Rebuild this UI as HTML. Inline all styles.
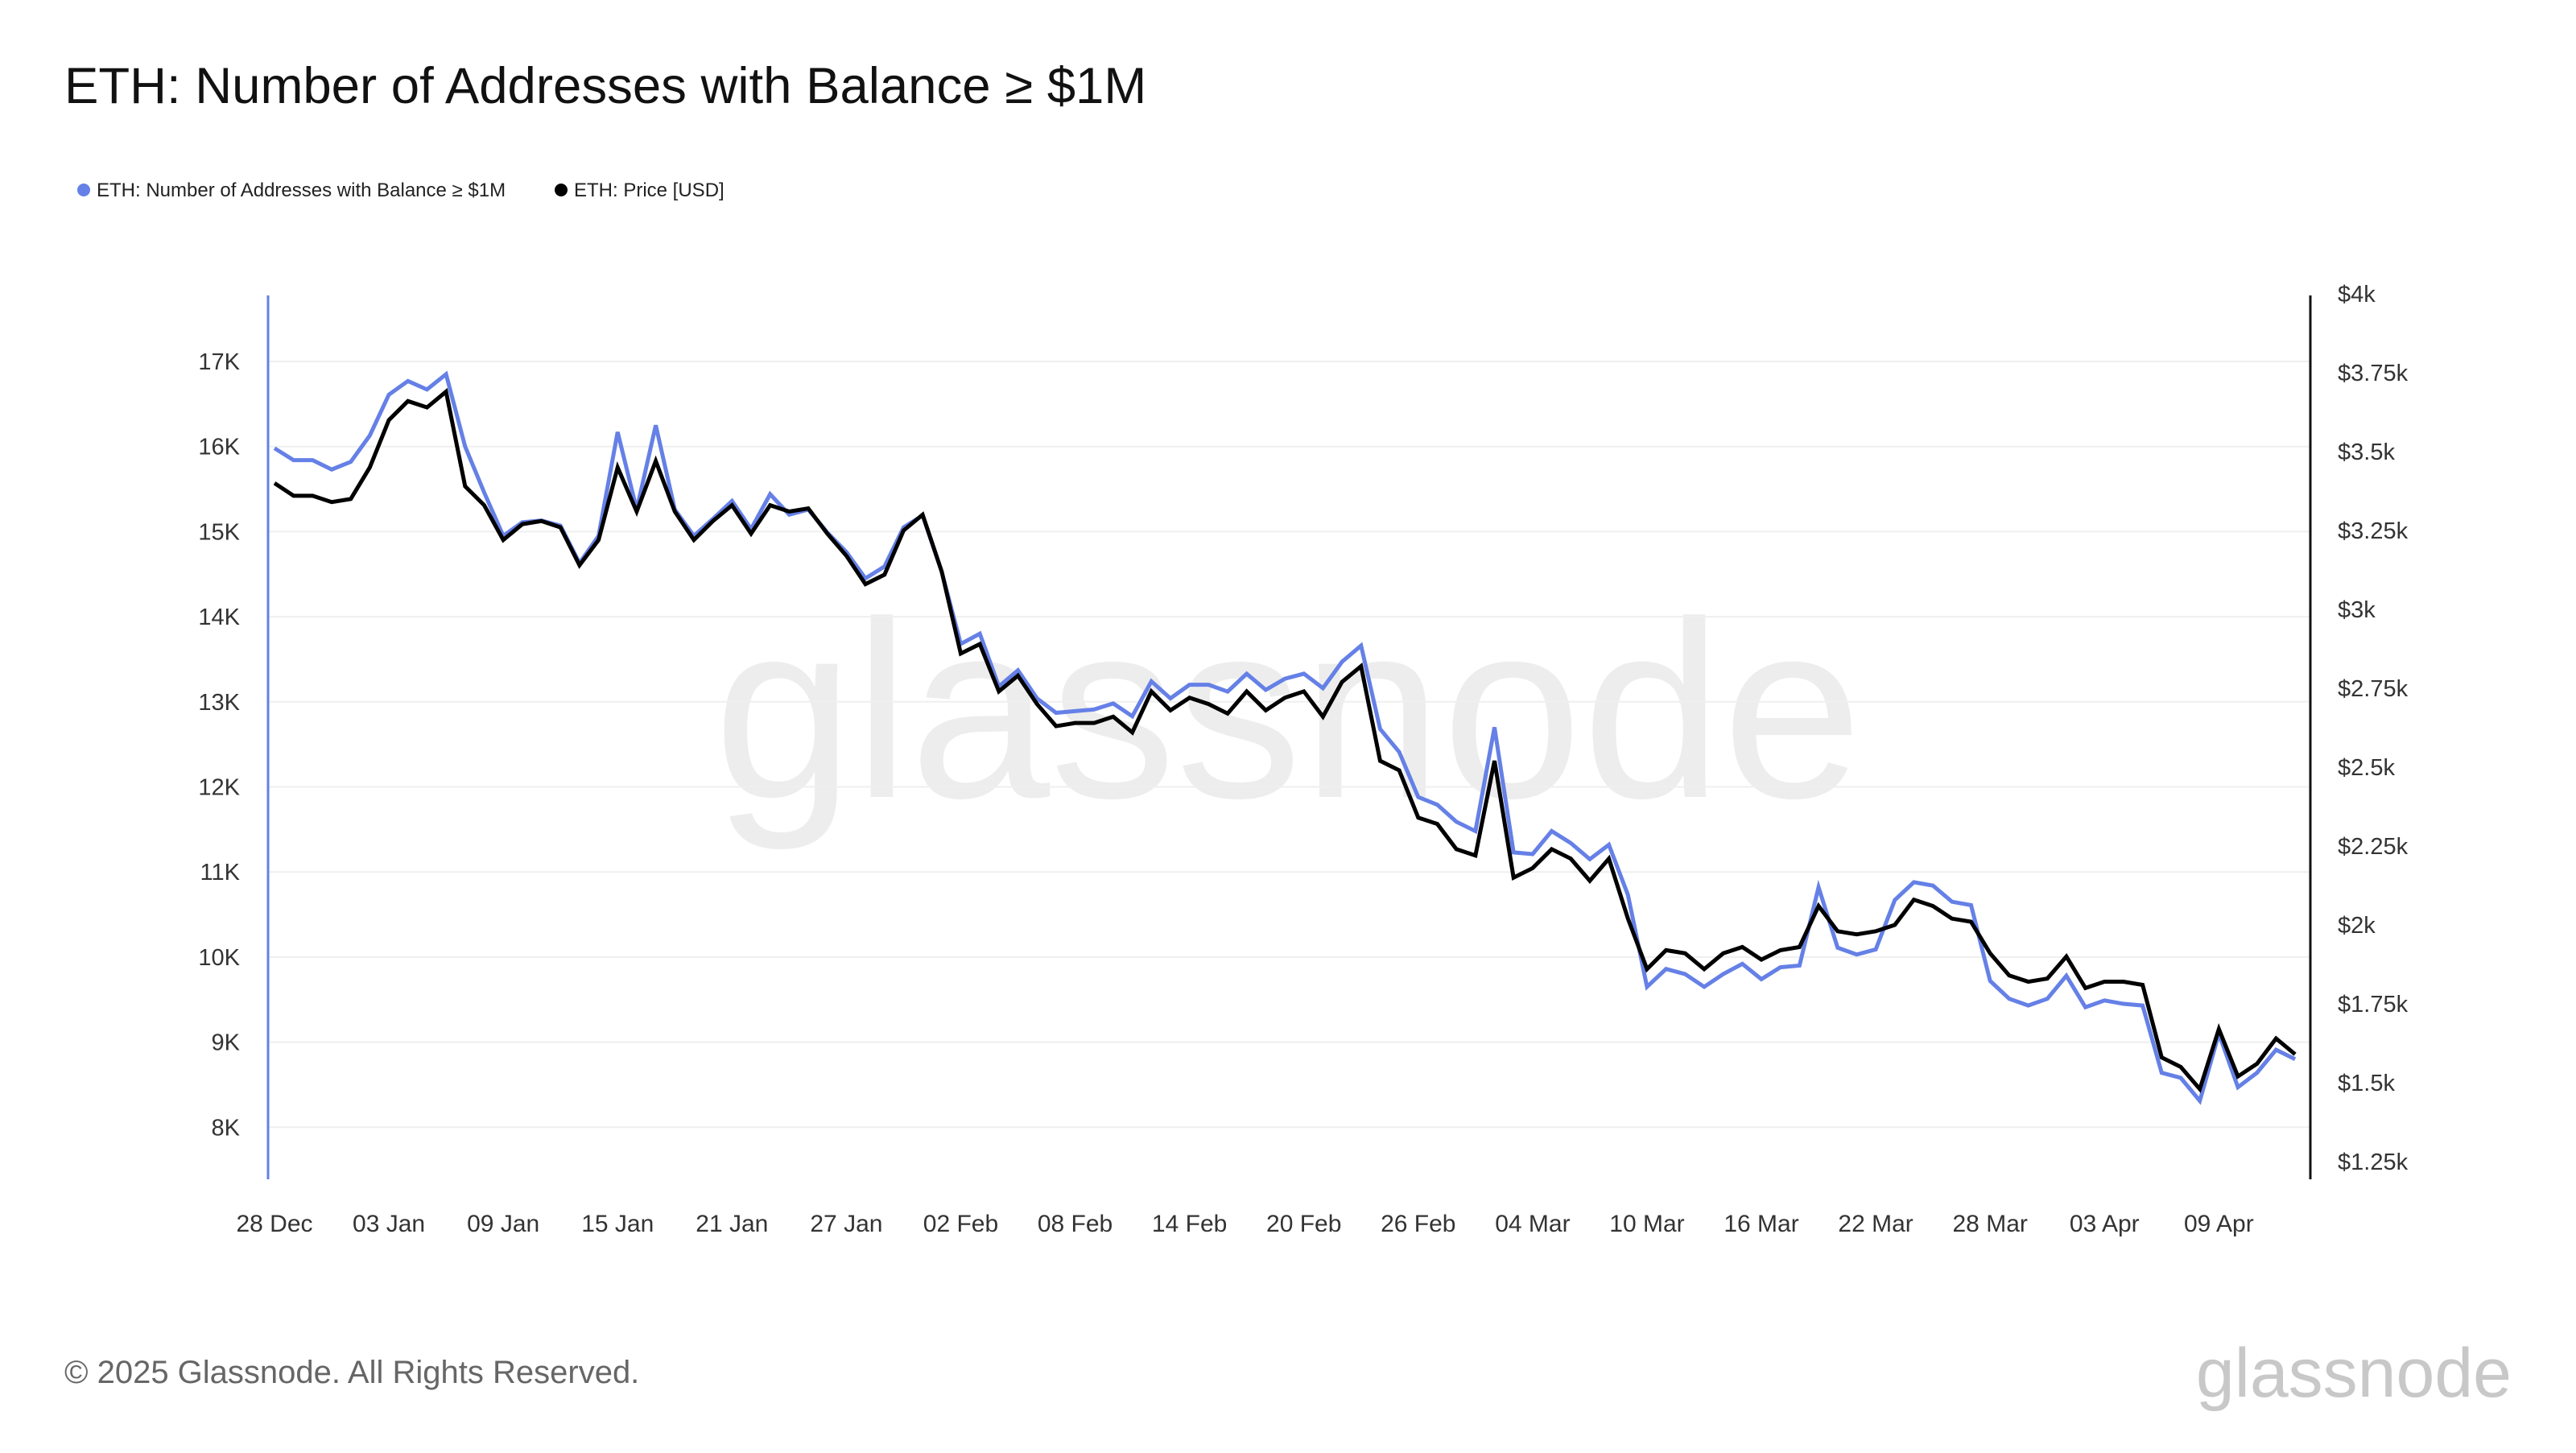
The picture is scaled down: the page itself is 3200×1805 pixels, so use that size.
<!DOCTYPE html>
<html><head><meta charset="utf-8"><style>
html,body{margin:0;padding:0;background:#fff;}
body{width:3200px;height:1800px;overflow:hidden;font-family:"Liberation Sans",sans-serif;}
</style></head><body>
<svg id="chart" width="3200" height="1800" xmlns="http://www.w3.org/2000/svg" font-family="Liberation Sans, sans-serif">
<text x="1600" y="990" text-anchor="middle" font-size="313" fill="#ededed">glassnode</text>
<text x="80" y="128" font-size="63.5" fill="#111">ETH: Number of Addresses with Balance ≥ $1M</text>
<g>
<circle cx="104" cy="236" r="8" fill="#6580e6"/>
<text x="120" y="244" font-size="24" fill="#222">ETH: Number of Addresses with Balance ≥ $1M</text>
<circle cx="697" cy="236" r="8" fill="#000"/>
<text x="713" y="244" font-size="24" fill="#222">ETH: Price [USD]</text>
</g>
<g id="grid"></g>
<g id="axes"></g>
<g id="series"></g>
<text x="80" y="1718" font-size="40" fill="#666">© 2025 Glassnode. All Rights Reserved.</text>
<text x="3120" y="1735" text-anchor="end" font-size="86" fill="#c8c8c8">glassnode</text>
</svg>
<script>
const addresses = [15.98,15.84,15.84,15.73,15.82,16.13,16.61,16.77,16.67,16.85,16.00,15.46,14.95,15.11,15.13,15.07,14.63,14.95,16.17,15.26,16.25,15.26,14.95,15.15,15.36,15.03,15.44,15.20,15.26,14.99,14.76,14.45,14.59,15.05,15.19,14.53,13.68,13.80,13.18,13.37,13.04,12.87,12.89,12.91,12.98,12.83,13.24,13.04,13.20,13.20,13.12,13.33,13.14,13.27,13.33,13.16,13.47,13.66,12.68,12.41,11.88,11.79,11.59,11.48,12.70,11.23,11.21,11.48,11.34,11.15,11.32,10.73,9.65,9.86,9.80,9.65,9.80,9.92,9.74,9.88,9.90,10.82,10.11,10.03,10.09,10.67,10.88,10.84,10.65,10.61,9.72,9.51,9.43,9.51,9.78,9.41,9.49,9.45,9.43,8.64,8.58,8.31,9.10,8.47,8.64,8.91,8.80];
const price = [3.40,3.36,3.36,3.34,3.35,3.45,3.60,3.66,3.64,3.69,3.39,3.33,3.22,3.27,3.28,3.26,3.14,3.22,3.45,3.31,3.47,3.31,3.22,3.28,3.33,3.24,3.33,3.31,3.32,3.24,3.17,3.08,3.11,3.25,3.30,3.12,2.86,2.89,2.74,2.79,2.70,2.63,2.64,2.64,2.66,2.61,2.74,2.68,2.72,2.70,2.67,2.74,2.68,2.72,2.74,2.66,2.77,2.82,2.52,2.49,2.34,2.32,2.24,2.22,2.52,2.15,2.18,2.24,2.21,2.14,2.21,2.02,1.86,1.92,1.91,1.86,1.91,1.93,1.89,1.92,1.93,2.06,1.98,1.97,1.98,2.00,2.08,2.06,2.02,2.01,1.91,1.84,1.82,1.83,1.90,1.80,1.82,1.82,1.81,1.58,1.55,1.48,1.67,1.52,1.56,1.64,1.59];
const xLabels = ["28 Dec","03 Jan","09 Jan","15 Jan","21 Jan","27 Jan","02 Feb","08 Feb","14 Feb","20 Feb","26 Feb","04 Mar","10 Mar","16 Mar","22 Mar","28 Mar","03 Apr","09 Apr"];
const leftTicks = [8,9,10,11,12,13,14,15,16,17];
const rightTicks = [1.25,1.5,1.75,2,2.25,2.5,2.75,3,3.25,3.5,3.75,4];
const labelEvery = 6;

const NS="http://www.w3.org/2000/svg";
const X0=341, DX=23.68, AXL=333, AXR=2870, TOP=367, BOT=1465;
const x = i => X0 + i*DX;
const yL = v => 449 + (17 - v)*105.7;
const yR = p => 365 + (4 - p)*392;
function mk(tag, parent, attrs){const e=document.createElementNS(NS,tag);for(const k in attrs)e.setAttribute(k,attrs[k]);parent.appendChild(e);return e;}
const grid=document.getElementById('grid'), axes=document.getElementById('axes'), series=document.getElementById('series');

leftTicks.forEach(v=>{
  const g=mk('line',grid,{x1:AXL,x2:AXR,y1:yL(v),y2:yL(v),stroke:'#efefef','stroke-width':2});
  
  
  const t=mk('text',axes,{x:298,y:yL(v)+10,'text-anchor':'end','font-size':29,fill:'#333'});
  t.textContent=v+'K';
  
  
});
rightTicks.forEach(p=>{
  const t=mk('text',axes,{x:2904,y:yR(p)+10,'font-size':29,fill:'#333'});
  t.textContent='$'+p+'k';
  
  
});
xLabels.forEach((l,k)=>{
  const t=mk('text',axes,{x:x(k*labelEvery),y:1530,'text-anchor':'middle','font-size':30,fill:'#333'});
  t.textContent=l;
  
  
});
const la=mk('line',axes,{x1:AXL,x2:AXL,y1:TOP,y2:BOT,stroke:'#6580e6','stroke-width':3});


const ra=mk('line',axes,{x1:AXR,x2:AXR,y1:TOP,y2:BOT,stroke:'#111','stroke-width':3});



const pb=mk('polyline',series,{points:addresses.map((v,i)=>x(i)+','+yL(v)).join(' '),fill:'none',stroke:'#6580e6','stroke-width':5,'stroke-linejoin':'miter'});


const pk=mk('polyline',series,{points:price.map((p,i)=>x(i)+','+yR(p)).join(' '),fill:'none',stroke:'#000','stroke-width':5,'stroke-linejoin':'miter'});


</script>
</body></html>
